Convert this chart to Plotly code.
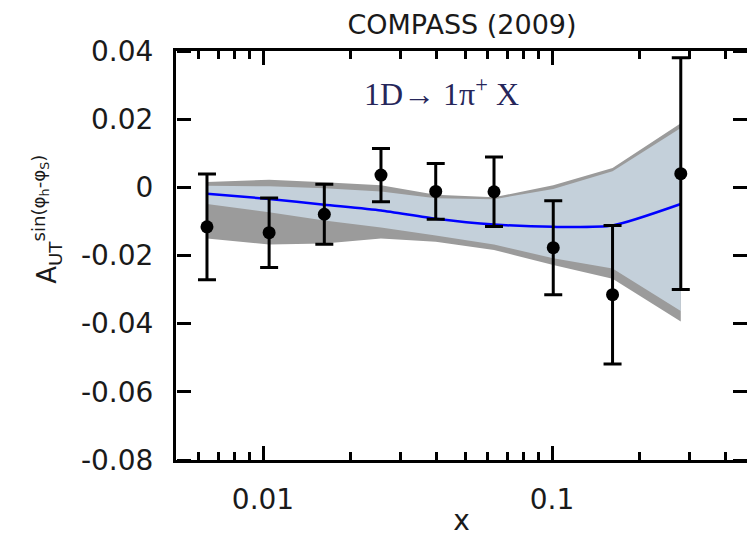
import plotly.graph_objects as go
import math

# ---- data ----
x_data = [0.0064, 0.0105, 0.0163, 0.0256, 0.0396, 0.063, 0.101, 0.162, 0.279]
y_data = [-0.0116, -0.0133, -0.0079, 0.0036, -0.0012, -0.0013, -0.0177, -0.0315, 0.0040]
y_err = [0.0155, 0.0102, 0.0088, 0.0078, 0.0082, 0.0102, 0.0138, 0.0203, 0.0340]

curve = [-0.0019, -0.0034, -0.0051, -0.0068, -0.0092, -0.0109, -0.0116, -0.0112, -0.0049]

gray_upper = [0.0016, 0.0022, 0.0015, 0.0006, -0.0022, -0.0029, 0.0006, 0.0057, 0.0188]
gray_lower = [-0.0150, -0.0168, -0.0165, -0.0150, -0.0160, -0.0184, -0.0228, -0.0268, -0.0394]

blue_upper = [0.0005, 0.0003, -0.0003, -0.0012, -0.0032, -0.0035, -0.0005, 0.0047, 0.0174]
blue_lower = [-0.0049, -0.0073, -0.0097, -0.0118, -0.0141, -0.0168, -0.0208, -0.0238, -0.0363]

y_ticks = [0.04, 0.02, 0.0, -0.02, -0.04, -0.06, -0.08]
y_ticktext = ["0.04", "0.02", "0", "-0.02", "-0.04", "-0.06", "-0.08"]
x_ticks = [0.01, 0.1]
x_ticktext = ["0.01", "0.1"]
x_minor = [0.006, 0.007, 0.008, 0.009, 0.02, 0.03, 0.04, 0.05, 0.06, 0.07, 0.08, 0.09,
           0.2, 0.3, 0.4]

# ---- figure ----
W, H = 747, 537
ml, mr, mt, mb = 176, 0, 51, 74
x_lo = math.log10(0.005)
x_hi = x_lo + (W - ml - mr) / 289.0

fig = go.Figure()

fig.add_trace(go.Scatter(
    x=x_data + x_data[::-1], y=gray_upper + gray_lower[::-1],
    fill="toself", fillcolor="rgb(155,155,155)", line=dict(width=0),
    mode="lines", hoverinfo="skip", showlegend=False))
fig.add_trace(go.Scatter(
    x=x_data + x_data[::-1], y=blue_upper + blue_lower[::-1],
    fill="toself", fillcolor="rgb(196,208,218)", line=dict(width=0),
    mode="lines", hoverinfo="skip", showlegend=False))
fig.add_trace(go.Scatter(
    x=x_data, y=curve, mode="lines",
    line=dict(color="#0000ff", width=2.5, shape="spline", smoothing=0.6),
    showlegend=False))
fig.add_trace(go.Scatter(
    x=x_data, y=y_data, mode="markers",
    marker=dict(color="black", size=13),
    error_y=dict(type="data", array=y_err, visible=True, color="black",
                 thickness=3, width=9),
    showlegend=False))

tick_font = dict(family="DejaVu Sans", size=28, color="#1a1a1a")
TC = "black"

fig.update_layout(
    width=W, height=H,
    margin=dict(l=ml, r=mr, t=mt, b=mb),
    paper_bgcolor="white", plot_bgcolor="white",
    title=dict(text="COMPASS (2009)", font=dict(family="DejaVu Sans", size=27, color="#1a1a1a"),
               xref="container", yref="container", x=462 / W, y=1 - 25 / H,
               xanchor="center", yanchor="middle"),
    xaxis=dict(type="log", range=[x_lo, x_hi],
               tickmode="array", tickvals=x_ticks, ticktext=x_ticktext,
               ticks="inside", ticklen=14, tickwidth=2.5, tickcolor=TC,
               minor=dict(tickmode="array", tickvals=x_minor, ticks="inside",
                          ticklen=8, tickwidth=2.5, tickcolor=TC, showgrid=False),
               showline=True, linewidth=3, linecolor="black", mirror="ticks",
               showgrid=False, zeroline=False, tickfont=tick_font,
               ticklabelstandoff=12,
               title=dict(text="x", font=dict(family="DejaVu Sans", size=28, color="#1a1a1a"),
                          standoff=2)),
    yaxis=dict(range=[-0.08, 0.04], tickmode="array", tickvals=y_ticks, ticktext=y_ticktext,
               ticks="", showline=True, linewidth=3, linecolor="black", mirror=False,
               showgrid=False, zeroline=False, tickfont=tick_font,
               ticklabelstandoff=14),
    # right-edge ticks pointing left
    yaxis2=dict(range=[-0.08, 0.04], overlaying="y", side="left", anchor="free", position=1,
                tickmode="array", tickvals=y_ticks, ticks="outside", ticklen=14, tickwidth=2.5,
                tickcolor=TC, showline=False, showticklabels=False,
                showgrid=False, zeroline=False),
    # left-edge ticks pointing right
    yaxis3=dict(range=[-0.08, 0.04], overlaying="y", side="right", anchor="free", position=0,
                tickmode="array", tickvals=y_ticks, ticks="outside", ticklen=14, tickwidth=2.5,
                tickcolor=TC, showline=False, showticklabels=False,
                showgrid=False, zeroline=False),
    annotations=[
        dict(text="1D→ 1π<sup>+</sup> X", x=0.465, y=0.9, xref="paper", yref="paper",
             showarrow=False, xanchor="center", yanchor="middle",
             font=dict(family="Liberation Serif", size=32, color="#26265a")),
        dict(text="A<sub>UT</sub><sup>sin(φ<sub>h</sub>-φ<sub>S</sub>)</sup>",
             x=(47 - ml) / (W - ml - mr), y=(H - mb - 221) / (H - mt - mb),
             xref="paper", yref="paper", textangle=-90, showarrow=False,
             xanchor="center", yanchor="middle",
             font=dict(family="DejaVu Sans", size=26, color="#1a1a1a")),
    ],
)
fig.add_trace(go.Scatter(x=[x_data[0]], y=[0], yaxis="y2", mode="markers",
                         marker=dict(opacity=0), hoverinfo="skip", showlegend=False))
fig.add_trace(go.Scatter(x=[x_data[0]], y=[0], yaxis="y3", mode="markers",
                         marker=dict(opacity=0), hoverinfo="skip", showlegend=False))

fig.write_html("out.html")
